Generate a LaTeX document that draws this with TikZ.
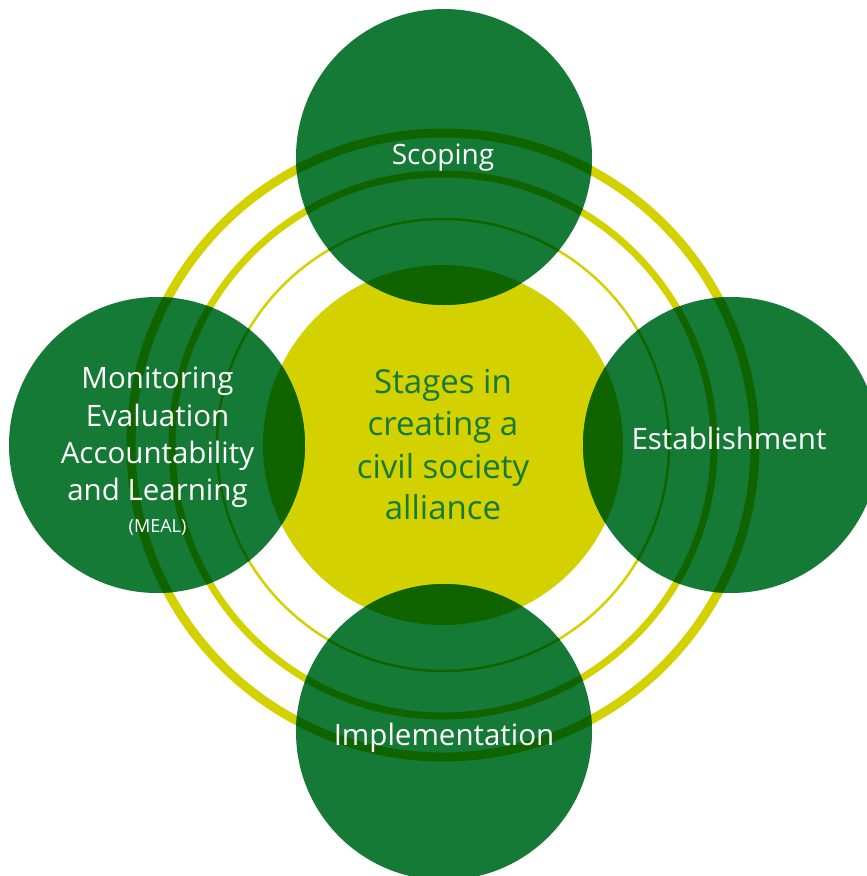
\documentclass[tikz,border=0pt]{standalone}
\usepackage{fontspec}
\setmainfont{Open Sans}
\definecolor{cgreen}{RGB}{21,122,53}
\definecolor{cyellow}{RGB}{212,209,0}
\definecolor{cdark}{RGB}{16,100,0}
\begin{document}
\begin{tikzpicture}[x=1pt,y=-1pt,
  ringA/.style={line width=9pt},
  ringB/.style={line width=7pt},
  ringC/.style={line width=2.5pt},
  lbl/.style={text=white,font=\fontsize{28}{33}\selectfont,anchor=base,inner sep=0pt},
  lblwide/.style={text=white,font=\fontsize{29.5}{35}\selectfont,anchor=base,inner sep=0pt},
  small/.style={text=white,font=\fontsize{18}{22}\selectfont,anchor=base,inner sep=0pt},
  ctext/.style={text=cgreen,font=\fontsize{33}{40}\selectfont,anchor=base,inner sep=0pt}]
\useasboundingbox (0,0) rectangle (867,876);
\clip (0,0) rectangle (867,876);
% rings and centre
\draw[ringA,cyellow] (443,445) circle[radius=312];
\draw[ringB,cyellow] (443,445) circle[radius=271];
\draw[ringC,cyellow] (443,445) circle[radius=226];
\fill[cyellow] (443,445) circle[radius=180];
% green stage circles with darker overlaps
\foreach \cx/\cy in {444/157, 157/445, 731/445, 444/732} {
  \fill[cgreen] (\cx,\cy) circle[radius=148];
  \begin{scope}
    \clip (\cx,\cy) circle[radius=148];
    \fill[cdark] (443,445) circle[radius=180];
    \draw[ringA,cdark] (443,445) circle[radius=312];
    \draw[ringB,cdark] (443,445) circle[radius=271];
    \draw[ringC,cdark] (443,445) circle[radius=226];
  \end{scope}
}
% labels
\node[lbl] (scoping) at (443,164) {Scoping};
\node[lblwide] (establishment) at (729,449) {Establishment};
\node[lblwide] (implementation) at (444,745) {Implementation};
\node[lblwide] (m1) at (157.5,388) {Monitoring};
\node[lblwide] (m2) at (157.5,426) {Evaluation};
\node[lblwide] (m3) at (157.5,463) {Accountability};
\node[lblwide] (m4) at (157.5,500) {and Learning};
\node[small] (m5) at (157.5,532) {(MEAL)};
\node[ctext] (c1) at (443,393) {Stages in};
\node[ctext] (c2) at (443,435) {creating a};
\node[ctext] (c3) at (443,478) {civil society};
\node[ctext] (c4) at (443,519) {alliance};
\end{tikzpicture}
\end{document}
